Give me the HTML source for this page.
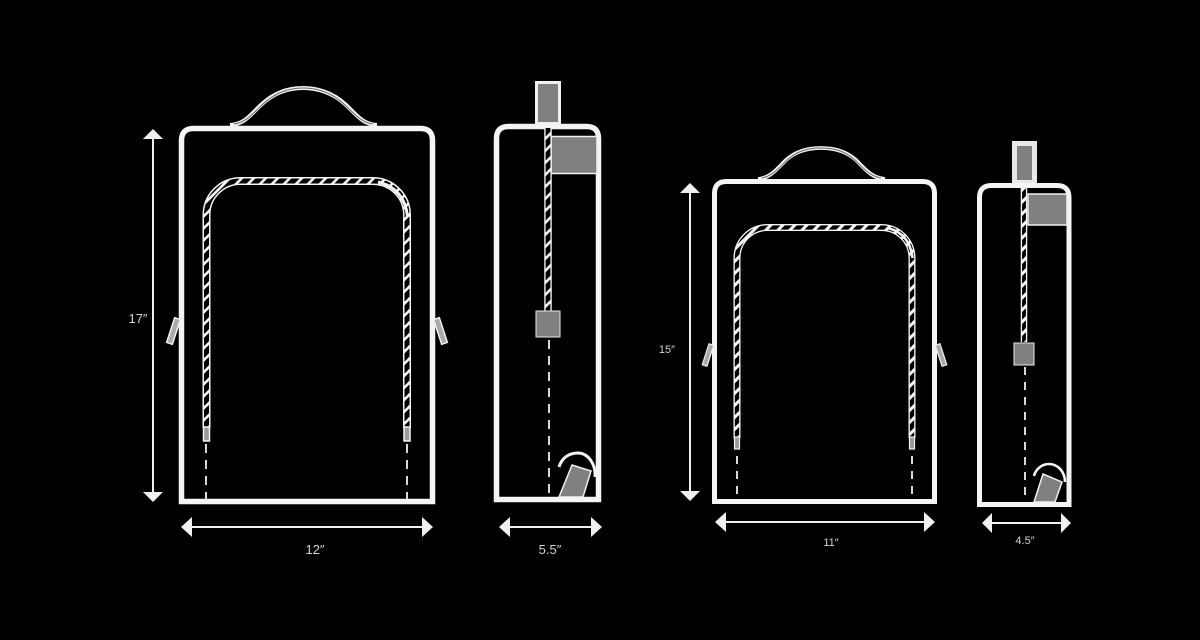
<!DOCTYPE html>
<html><head><meta charset="utf-8"><title>Bag dimensions</title>
<style>html,body{margin:0;padding:0;background:#000}svg{display:block}text{font-family:"Liberation Sans",sans-serif;fill:#d4d4d4;text-anchor:middle}</style>
</head><body>
<svg width="1200" height="640" viewBox="0 0 1200 640" xmlns="http://www.w3.org/2000/svg">
<defs>
<pattern id="s" patternUnits="userSpaceOnUse" width="12" height="12"><rect width="12" height="12" fill="#000"/><path d="M-3 3L3 -3M-3 15L15 -3M9 15L15 9" stroke="#f4f4f4" stroke-width="2.600"/></pattern>
<pattern id="t" patternUnits="userSpaceOnUse" width="12" height="12"><rect width="12" height="12" fill="#000"/><path d="M-3 3L3 -3M-3 15L15 -3M9 15L15 9" stroke="#f4f4f4" stroke-width="3"/></pattern>
</defs>
<rect width="1200" height="640" fill="#000"/>

<!-- Figure 1 -->
<path d="M230 125C245 124 250 115 262 104C275 92 290 88 303 88C316 88 332 92 345 104C357 115 362 124 377 125" fill="none" stroke="#f4f4f4" stroke-width="4"/>
<path d="M234 124C247 122 252 114 263 104C276 92 290 88 303 88C316 88 331 92 344 104C355 114 360 122 373 124" fill="none" stroke="#666" stroke-width="1"/>
<path d="M181.500 501.500V140.500Q181.500 128.500 193.500 128.500H420.500Q432.500 128.500 432.500 140.500V501.500Z" fill="#000" stroke="#f4f4f4" stroke-width="5.500"/>
<path d="M206.500 428V215A34 34 0 0 1 240.500 181H373A34 34 0 0 1 407 215V428" fill="none" stroke="#f4f4f4" stroke-width="8"/>
<path d="M206.500 428V215A34 34 0 0 1 240.500 181H373A34 34 0 0 1 407 215V428" fill="none" stroke="url(#s)" stroke-width="5"/>
<path d="M378 182Q404 188 407.500 216" fill="none" stroke="#f4f4f4" stroke-width="3"/>
<rect x="203.500" y="427" width="6" height="14" fill="#999" stroke="#f4f4f4" stroke-width="1.500"/>
<rect x="404" y="427" width="6" height="14" fill="#999" stroke="#f4f4f4" stroke-width="1.500"/>
<path d="M206 444V500M407 444V500" stroke="#f0f0f0" stroke-width="1.800" stroke-dasharray="9 7"/>
<rect x="170.500" y="318" width="6" height="26" transform="rotate(18 173.500 331)" fill="#aaa" stroke="#f0f0f0" stroke-width="1.500"/>
<rect x="437.500" y="318" width="6" height="26" transform="rotate(-18 440.500 331)" fill="#aaa" stroke="#f0f0f0" stroke-width="1.500"/>
<path d="M153 135V496M189 527H425" stroke="#f0f0f0" stroke-width="2"/>
<path d="M153 129L163 139H143ZM153 502L143 492H163ZM181 527L192 517V537ZM433 527L422 517V537Z" fill="#f0f0f0"/>
<text x="138" y="323" font-size="13">17″</text>
<text x="315" y="554" font-size="13">12″</text>

<!-- Figure 2 -->
<rect x="536.500" y="82.500" width="23" height="41" fill="#808080" stroke="#f0f0f0" stroke-width="3"/>
<path d="M496.500 499.500V138.500Q496.500 126.500 508.500 126.500H586.500Q598.500 126.500 598.500 138.500V499.500Z" fill="#000" stroke="#f4f4f4" stroke-width="5.500"/>
<rect x="551" y="136.500" width="46" height="37" fill="#808080" stroke="#f0f0f0" stroke-width="1.500"/>
<path d="M548 128V312" stroke="#f4f4f4" stroke-width="7.500"/>
<path d="M548 128V312" stroke="url(#s)" stroke-width="4.800"/>
<rect x="536" y="311" width="24" height="26" fill="#808080" stroke="#e8e8e8" stroke-width="1"/>
<path d="M549 340V497" stroke="#f0f0f0" stroke-width="1.800" stroke-dasharray="9 7"/>
<path d="M572 465L591 471L583 497H559Z" fill="#808080" stroke="#f0f0f0" stroke-width="1.500"/>
<path d="M559 467C562 457 570 453 578 453C588 453 596 464 595 477" fill="none" stroke="#f4f4f4" stroke-width="3"/>
<path d="M508 527H593" stroke="#f0f0f0" stroke-width="2"/>
<path d="M499 527L510 517V537ZM602 527L591 517V537Z" fill="#f0f0f0"/>
<text x="550" y="554" font-size="13">5.5″</text>

<!-- Figure 3 -->
<path d="M758 179C770 178 776 170 786 160C796 151 808 148 821 148C834 148 846 151 856 160C866 170 872 178 885 179" fill="none" stroke="#f4f4f4" stroke-width="3.800"/>
<path d="M762 178C772 176 778 169 787 160C797 151 808 148 821 148C834 148 845 151 855 160C864 169 870 176 881 178" fill="none" stroke="#666" stroke-width="1"/>
<path d="M714.500 501.500V193.500Q714.500 181.500 726.500 181.500H922.500Q934.500 181.500 934.500 193.500V501.500Z" fill="#000" stroke="#f4f4f4" stroke-width="5"/>
<path d="M737 438V258A30.500 30.500 0 0 1 767.500 227.500H881.500A30.500 30.500 0 0 1 912 258V438" fill="none" stroke="#f4f4f4" stroke-width="7"/>
<path d="M737 438V258A30.500 30.500 0 0 1 767.500 227.500H881.500A30.500 30.500 0 0 1 912 258V438" fill="none" stroke="url(#t)" stroke-width="4.300"/>
<path d="M888 228Q910 234 912.500 258" fill="none" stroke="#f4f4f4" stroke-width="2.500"/>
<rect x="734.500" y="437" width="5" height="12" fill="#999" stroke="#f4f4f4" stroke-width="1.200"/>
<rect x="909.500" y="437" width="5" height="12" fill="#999" stroke="#f4f4f4" stroke-width="1.200"/>
<path d="M737 456V500M912 456V500" stroke="#f0f0f0" stroke-width="1.800" stroke-dasharray="8 7"/>
<rect x="705.500" y="344" width="5" height="22" transform="rotate(18 708 355)" fill="#aaa" stroke="#f0f0f0" stroke-width="1.200"/>
<rect x="938.500" y="344" width="5" height="22" transform="rotate(-18 941 355)" fill="#aaa" stroke="#f0f0f0" stroke-width="1.200"/>
<path d="M690 190V495M723 522H927" stroke="#f0f0f0" stroke-width="2"/>
<path d="M690 183L700 193H680ZM690 501L680 491H700ZM715 522L726 512V532ZM935 522L924 512V532Z" fill="#f0f0f0"/>
<text x="667" y="353" font-size="11">15″</text>
<text x="831" y="546" font-size="11">11″</text>

<!-- Figure 4 -->
<rect x="1014.500" y="143.500" width="20" height="39" fill="#808080" stroke="#e8e8e8" stroke-width="5"/>
<path d="M979.500 504.500V197.500Q979.500 185.500 991.500 185.500H1057Q1069 185.500 1069 197.500V504.500Z" fill="#000" stroke="#f4f4f4" stroke-width="5"/>
<rect x="1028" y="194" width="39" height="31" fill="#808080" stroke="#f0f0f0" stroke-width="1.500"/>
<path d="M1024 188V342" stroke="#f4f4f4" stroke-width="6.500"/>
<path d="M1024 188V342" stroke="url(#t)" stroke-width="3.800"/>
<rect x="1014" y="343" width="20" height="22" fill="#808080" stroke="#e8e8e8" stroke-width="1"/>
<path d="M1025 367V502" stroke="#f0f0f0" stroke-width="1.800" stroke-dasharray="8 7"/>
<path d="M1043 474L1062 482L1055 502H1034Z" fill="#808080" stroke="#f0f0f0" stroke-width="1.500"/>
<path d="M1034 476C1036 468 1043 464 1049 464C1058 464 1065 472 1065 482" fill="none" stroke="#f4f4f4" stroke-width="2.600"/>
<path d="M990 523H1063" stroke="#f0f0f0" stroke-width="2"/>
<path d="M982 523L992 513V533ZM1071 523L1061 513V533Z" fill="#f0f0f0"/>
<text x="1025" y="544" font-size="11">4.5″</text>
</svg>
</body></html>
